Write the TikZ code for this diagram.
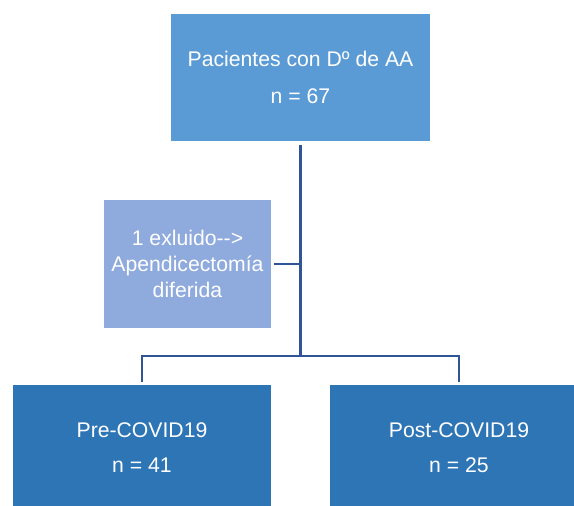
\documentclass[tikz,border=0pt]{standalone}
\usepackage{fontspec}
\setmainfont{Liberation Sans}
\definecolor{topblue}{HTML}{5B9BD5}
\definecolor{exblue}{HTML}{8FAADC}
\definecolor{grpblue}{HTML}{2E75B6}
\definecolor{linkblue}{HTML}{2F5597}
\begin{document}
\begin{tikzpicture}[x=1pt,y=-1pt,
  boxbase/.style={rectangle, inner sep=0pt, text=white, align=center},
  topbox/.style={boxbase, fill=topblue, minimum width=259pt, minimum height=127pt, font=\fontsize{21.2}{37}\selectfont},
  exbox/.style={boxbase, fill=exblue, minimum width=167pt, minimum height=128pt, font=\fontsize{21.2}{26}\selectfont},
  grpbox/.style={boxbase, fill=grpblue, minimum width=258pt, minimum height=126pt, font=\fontsize{21.2}{35}\selectfont},
  conn/.style={draw=linkblue, line width=2.8pt}]
\useasboundingbox (0,0) rectangle (574,506);
\clip (0,0) rectangle (574,506);
\fill[white] (0,0) rectangle (574,506);
\node[topbox] (top) at (300.5,77.5) {Pacientes con Dº de AA\\n = 67};
\node[exbox] (excl) at (187.5,264) {1 exluido-{}-{}>\\Apendicectomía\\diferida};
\node[grpbox] (pre) at (142,448) {Pre-COVID19\\n = 41};
\node[grpbox] (post) at (459,448) {Post-COVID19\\n = 25};
\coordinate (split) at (300.5,356);
\draw[conn, shorten <=4pt] (top.south) -- (split);
\draw[conn, shorten >=3pt] (split) -| (pre.north);
\draw[conn, shorten >=3pt] (split) -| (post.north);
\draw[conn, shorten <=3pt] (excl.east) -- (excl.east -| split);
\end{tikzpicture}
\end{document}
